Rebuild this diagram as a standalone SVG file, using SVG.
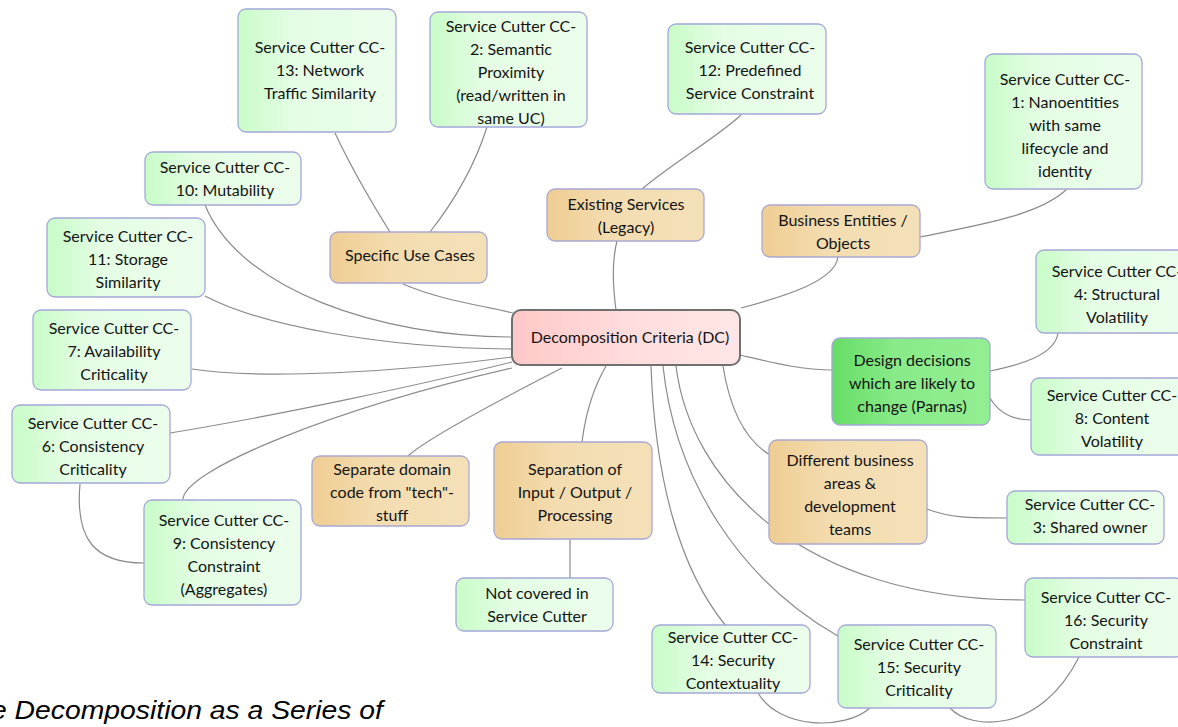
<svg xmlns="http://www.w3.org/2000/svg" width="1178" height="727" viewBox="0 0 1178 727">
  <defs>
    <linearGradient id="gGreen" x1="0" y1="0" x2="1" y2="0">
      <stop offset="0" stop-color="#c8fcc8"/>
      <stop offset="0.35" stop-color="#e4fde4"/>
      <stop offset="1" stop-color="#ecfdec"/>
    </linearGradient>
    <linearGradient id="gOrange" x1="0" y1="0" x2="1" y2="0">
      <stop offset="0" stop-color="#efcd92"/>
      <stop offset="0.4" stop-color="#f3dcb0"/>
      <stop offset="1" stop-color="#f4e0b8"/>
    </linearGradient>
    <linearGradient id="gRoot" x1="0" y1="0" x2="1" y2="0">
      <stop offset="0" stop-color="#ffc8c8"/>
      <stop offset="0.5" stop-color="#ffdcdc"/>
      <stop offset="1" stop-color="#ffe6e6"/>
    </linearGradient>
    <linearGradient id="gBright" x1="0" y1="0" x2="1" y2="0">
      <stop offset="0" stop-color="#66dd66"/>
      <stop offset="0.4" stop-color="#88ea88"/>
      <stop offset="1" stop-color="#92ee92"/>
    </linearGradient>
  </defs>
  <style>
    .cc rect { fill: url(#gGreen); stroke: #a4a8d8; stroke-width: 1.3; }
    .cat rect { fill: url(#gOrange); stroke: #a8a8d4; stroke-width: 1.3; }
    .hot rect { fill: url(#gBright); stroke: #a4a8d8; stroke-width: 1.3; }
    .root rect { fill: url(#gRoot); stroke: #707070; stroke-width: 2; }
    text { font-family: Lato, "Open Sans", sans-serif; font-size: 16px; fill: #141414; text-anchor: middle; }
    .cap { font-family: "Liberation Sans", Arial, sans-serif; font-style: italic; font-size: 26px; fill: #000; text-anchor: start; }
    #links path { fill: none; stroke: #8a8a8a; stroke-width: 1.2; }
  </style>
  <rect width="1178" height="727" fill="#ffffff"/>

  <g id="links">
    <path d="M403,284 C440,300 480,305 513,313"/>
    <path d="M335,133 C350,165 370,200 390,232"/>
    <path d="M430,232 C455,200 475,165 487,127"/>
    <path d="M205,205 C240,290 380,337 513,337"/>
    <path d="M205,296 C260,325 380,348 512,349"/>
    <path d="M192,369 C260,380 400,372 512,357"/>
    <path d="M170,433 C280,415 420,385 512,362"/>
    <path d="M183,499 C185,470 330,410 512,368"/>
    <path d="M80,484 C75,540 95,563 144,563"/>
    <path d="M408,456 C425,440 480,410 562,368"/>
    <path d="M582,442 C586,410 595,385 606,366"/>
    <path d="M570,539 L570,578"/>
    <path d="M723,366 C730,410 745,440 770,455"/>
    <path d="M927,509 C950,518 970,518 1007,518"/>
    <path d="M740,355 C770,362 800,370 833,370"/>
    <path d="M990,371 C1020,365 1055,355 1058,333"/>
    <path d="M990,398 C1000,415 1015,420 1031,420"/>
    <path d="M676,366 C690,480 800,600 1025,600"/>
    <path d="M663,366 C675,480 740,580 838,636"/>
    <path d="M651,366 C655,480 680,570 726,626"/>
    <path d="M758,693 C780,730 845,730 870,708"/>
    <path d="M950,708 C970,730 1040,735 1079,657"/>
    <path d="M616,310 C612,280 612,260 617,241"/>
    <path d="M642,189 C670,165 720,135 741,115"/>
    <path d="M741,308 C790,295 835,280 838,257"/>
    <path d="M920,237 C980,225 1040,215 1067,189"/>
  </g>

  <g id="root" class="root">
    <rect x="512" y="310" width="228" height="55" rx="9"/>
    <text x="630" y="343">Decomposition Criteria (DC)</text>
  </g>

  <g id="specific-use-cases" class="cat">
    <rect x="330" y="232" width="157" height="51" rx="8"/>
    <text x="410" y="261">Specific Use Cases</text>
  </g>
  <g id="existing-services" class="cat">
    <rect x="547" y="189" width="157" height="52" rx="8"/>
    <text x="626" y="210">Existing Services</text>
    <text x="626" y="233">(Legacy)</text>
  </g>
  <g id="business-entities" class="cat">
    <rect x="762" y="205" width="158" height="52" rx="8"/>
    <text x="843" y="226">Business Entities /</text>
    <text x="843" y="249">Objects</text>
  </g>
  <g id="separate-domain" class="cat">
    <rect x="312" y="456" width="157" height="70" rx="8"/>
    <text x="392" y="475">Separate domain</text>
    <text x="392" y="498">code from "tech"-</text>
    <text x="392" y="521">stuff</text>
  </g>
  <g id="separation-io" class="cat">
    <rect x="494" y="442" width="158" height="97" rx="8"/>
    <text x="575" y="475">Separation of</text>
    <text x="575" y="498">Input / Output /</text>
    <text x="575" y="521">Processing</text>
  </g>
  <g id="business-areas" class="cat">
    <rect x="769" y="440" width="158" height="104" rx="8"/>
    <text x="850" y="466">Different business</text>
    <text x="850" y="489">areas &amp;</text>
    <text x="850" y="512">development</text>
    <text x="850" y="535">teams</text>
  </g>
  <g id="design-decisions" class="hot">
    <rect x="832" y="338" width="158" height="87" rx="8"/>
    <text x="912" y="366">Design decisions</text>
    <text x="912" y="389">which are likely to</text>
    <text x="912" y="412">change (Parnas)</text>
  </g>

  <g id="cc13" class="cc">
    <rect x="238" y="9" width="158" height="123" rx="8"/>
    <text x="320" y="53">Service Cutter CC-</text>
    <text x="320" y="76">13: Network</text>
    <text x="320" y="99">Traffic Similarity</text>
  </g>
  <g id="cc2" class="cc">
    <rect x="430" y="12" width="157" height="115" rx="8"/>
    <text x="511" y="32">Service Cutter CC-</text>
    <text x="511" y="55">2: Semantic</text>
    <text x="511" y="78">Proximity</text>
    <text x="511" y="101">(read/written in</text>
    <text x="511" y="124">same UC)</text>
  </g>
  <g id="cc12" class="cc">
    <rect x="668" y="24" width="158" height="90" rx="8"/>
    <text x="750" y="53">Service Cutter CC-</text>
    <text x="750" y="76">12: Predefined</text>
    <text x="750" y="99">Service Constraint</text>
  </g>
  <g id="cc1" class="cc">
    <rect x="985" y="54" width="157" height="135" rx="8"/>
    <text x="1065" y="85">Service Cutter CC-</text>
    <text x="1065" y="108">1: Nanoentities</text>
    <text x="1065" y="131">with same</text>
    <text x="1065" y="154">lifecycle and</text>
    <text x="1065" y="177">identity</text>
  </g>
  <g id="cc10" class="cc">
    <rect x="145" y="152" width="156" height="53" rx="8"/>
    <text x="225" y="173">Service Cutter CC-</text>
    <text x="225" y="196">10: Mutability</text>
  </g>
  <g id="cc11" class="cc">
    <rect x="47" y="218" width="158" height="79" rx="8"/>
    <text x="128" y="242">Service Cutter CC-</text>
    <text x="128" y="265">11: Storage</text>
    <text x="128" y="288">Similarity</text>
  </g>
  <g id="cc7" class="cc">
    <rect x="33" y="310" width="158" height="80" rx="8"/>
    <text x="114" y="334">Service Cutter CC-</text>
    <text x="114" y="357">7: Availability</text>
    <text x="114" y="380">Criticality</text>
  </g>
  <g id="cc6" class="cc">
    <rect x="12" y="405" width="158" height="78" rx="8"/>
    <text x="93" y="429">Service Cutter CC-</text>
    <text x="93" y="452">6: Consistency</text>
    <text x="93" y="475">Criticality</text>
  </g>
  <g id="cc9" class="cc">
    <rect x="144" y="500" width="157" height="105" rx="8"/>
    <text x="224" y="526">Service Cutter CC-</text>
    <text x="224" y="549">9: Consistency</text>
    <text x="224" y="572">Constraint</text>
    <text x="224" y="595">(Aggregates)</text>
  </g>
  <g id="not-covered" class="cc">
    <rect x="456" y="578" width="157" height="53" rx="8"/>
    <text x="537" y="599">Not covered in</text>
    <text x="537" y="622">Service Cutter</text>
  </g>
  <g id="cc14" class="cc">
    <rect x="652" y="625" width="158" height="68" rx="8"/>
    <text x="733" y="643">Service Cutter CC-</text>
    <text x="733" y="666">14: Security</text>
    <text x="733" y="689">Contextuality</text>
  </g>
  <g id="cc15" class="cc">
    <rect x="838" y="625" width="158" height="83" rx="8"/>
    <text x="919" y="650">Service Cutter CC-</text>
    <text x="919" y="673">15: Security</text>
    <text x="919" y="696">Criticality</text>
  </g>
  <g id="cc16" class="cc">
    <rect x="1025" y="578" width="158" height="79" rx="8"/>
    <text x="1106" y="603">Service Cutter CC-</text>
    <text x="1106" y="626">16: Security</text>
    <text x="1106" y="649">Constraint</text>
  </g>
  <g id="cc3" class="cc">
    <rect x="1007" y="491" width="157" height="53" rx="8"/>
    <text x="1090" y="510">Service Cutter CC-</text>
    <text x="1090" y="533">3: Shared owner</text>
  </g>
  <g id="cc8" class="cc">
    <rect x="1031" y="378" width="158" height="77" rx="8"/>
    <text x="1112" y="401">Service Cutter CC-</text>
    <text x="1112" y="424">8: Content</text>
    <text x="1112" y="447">Volatility</text>
  </g>
  <g id="cc4" class="cc">
    <rect x="1036" y="250" width="158" height="83" rx="8"/>
    <text x="1117" y="277">Service Cutter CC-</text>
    <text x="1117" y="300">4: Structural</text>
    <text x="1117" y="323">Volatility</text>
  </g>

  <text class="cap" x="-9" y="719" textLength="392" lengthAdjust="spacingAndGlyphs">e Decomposition as a Series of</text>
</svg>
